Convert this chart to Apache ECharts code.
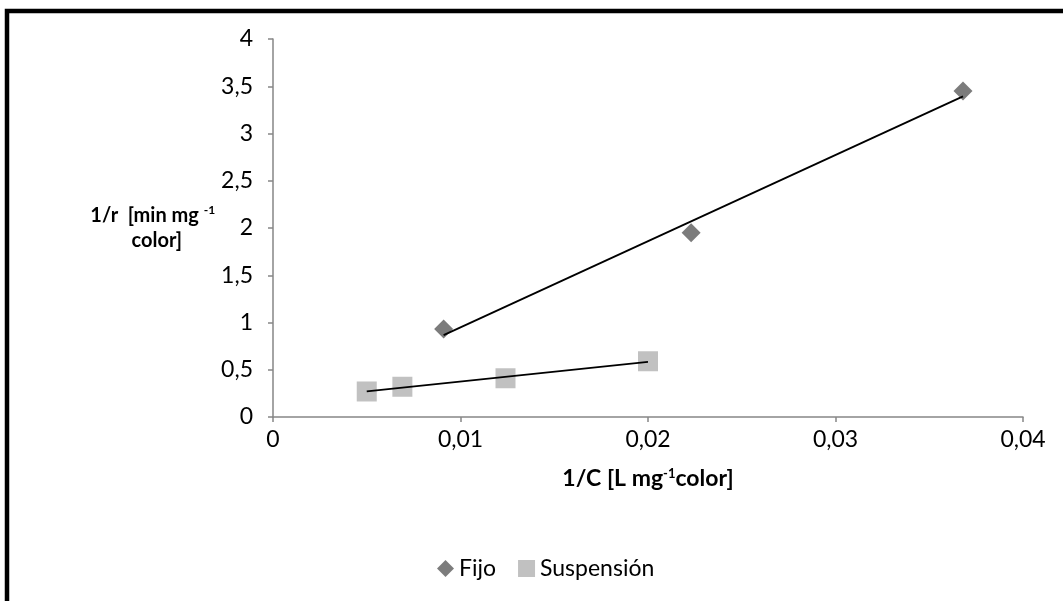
<!DOCTYPE html>
<html>
<head>
<meta charset="utf-8">
<script src="https://cdn.jsdelivr.net/npm/echarts@6/dist/echarts.min.js"></script>
<style>
  html, body { margin: 0; padding: 0; background: #fff; }
  #main { width: 1063px; height: 601px; }
</style>
</head>
<body>
<div id="main"></div>
<script>
// datos
var fijoX = [0.0091, 0.0223, 0.0368];
var fijoY = [0.93, 1.95, 3.45];
var suspX = [0.0050, 0.0069, 0.0124, 0.0200];
var suspY = [0.27, 0.32, 0.41, 0.59];
var xTicks = { min: 0, max: 0.04, interval: 0.01 };
var yTicks = { min: 0, max: 4, interval: 0.5 };

// linea de tendencia (minimos cuadrados)
function tendencia(xs, ys) {
	var n = xs.length, mx = 0, my = 0;
	for (var i = 0; i < n; i++) { mx += xs[i]; my += ys[i]; }
	mx /= n; my /= n;
	var sxy = 0, sxx = 0;
	for (var j = 0; j < n; j++) {
		sxy += (xs[j] - mx) * (ys[j] - my);
		sxx += (xs[j] - mx) * (xs[j] - mx);
	}
	var b = sxy / sxx, a = my - b * mx;
	var x0 = Math.min.apply(null, xs), x1 = Math.max.apply(null, xs);
	return [[x0, a + b * x0], [x1, a + b * x1]];
}
function pares(xs, ys) {
	var d = [];
	for (var i = 0; i < xs.length; i++) d.push([xs[i], ys[i]]);
	return d;
}
function coma(v) { return String(+v.toFixed(4)).replace('.', ','); }

var font = 'Lato';
var chart = echarts.init(document.getElementById('main'));
var option = {
	backgroundColor: '#fff',
	textStyle: { fontFamily: font },
	animation: false,
	graphic: [{
		type: 'polyline',
		shape: { points: [[7, 700], [7, 11], [1100, 11]] },
		style: { stroke: '#000', lineWidth: 4.5, fill: null }
	}],
	grid: { left: 273, right: 40, top: 39, bottom: 184 },
	legend: {
		left: 432,
		top: 552,
		itemWidth: 17,
		itemHeight: 17,
		itemGap: 22,
		textStyle: { fontFamily: font, fontSize: 23, color: '#000' },
		data: [
			{ name: 'Fijo', icon: 'diamond' },
			{ name: 'Suspensión', icon: 'rect' }
		]
	},
	xAxis: {
		type: 'value',
		min: xTicks.min, max: xTicks.max, interval: xTicks.interval,
		axisLine: { lineStyle: { color: '#868686', width: 1.5 } },
		axisTick: { show: true, length: 5, lineStyle: { color: '#868686', width: 1.5 } },
		splitLine: { show: false },
		axisLabel: { color: '#000', fontSize: 23, fontFamily: font, margin: 11, formatter: coma },
		name: '{b|1/C [L mg}{s|-1}{b|color]}',
		nameLocation: 'middle',
		nameGap: 50,
		nameTextStyle: {
			fontSize: 23,
			rich: {
				b: { fontSize: 23, fontWeight: 'bold', fontFamily: font, color: '#000' },
				s: { fontSize: 13, fontWeight: 'bold', fontFamily: font, color: '#000', padding: [0, 0, 11, 0] }
			}
		}
	},
	yAxis: {
		type: 'value',
		min: yTicks.min, max: yTicks.max, interval: yTicks.interval,
		axisLine: { show: true, lineStyle: { color: '#868686', width: 1.5 } },
		axisTick: { show: true, length: 5, lineStyle: { color: '#868686', width: 1.5 } },
		splitLine: { show: false },
		axisLabel: { color: '#000', fontSize: 23, fontFamily: font, margin: 20, formatter: coma },
		name: '{b|1/r  [min mg }{s|-1}\n{c|color]}',
		nameLocation: 'middle',
		nameRotate: 0,
		nameGap: 104,
		nameTextStyle: {
			fontSize: 20,
			align: 'center',
			rich: {
				b: { fontSize: 20, fontWeight: 'bold', fontFamily: font, color: '#000', lineHeight: 25 },
				c: { fontSize: 20, fontWeight: 'bold', fontFamily: font, color: '#000', lineHeight: 25, padding: [0, 0, 0, 8] },
				s: { fontSize: 12, fontWeight: 'bold', fontFamily: font, color: '#000', padding: [0, 0, 10, 0] }
			}
		}
	},
	series: [
		{
			name: 'Fijo',
			type: 'scatter',
			symbol: 'diamond',
			symbolSize: [19, 19],
			itemStyle: { color: '#5b5b5b' },
			data: pares(fijoX, fijoY),
			z: 3
		},
		{
			name: 'Suspensión',
			type: 'scatter',
			symbol: 'rect',
			symbolSize: 20,
			itemStyle: { color: '#b2b2b2' },
			data: pares(suspX, suspY),
			z: 3
		},
		{
			name: 'tendFijo',
			type: 'line',
			showSymbol: false,
			silent: true,
			lineStyle: { color: '#000', width: 1.8 },
			data: tendencia(fijoX, fijoY),
			z: 4
		},
		{
			name: 'tendSusp',
			type: 'line',
			showSymbol: false,
			silent: true,
			lineStyle: { color: '#000', width: 1.8 },
			data: tendencia(suspX, suspY),
			z: 4
		}
	]
};
chart.setOption(option);
</script>
</body>
</html>
